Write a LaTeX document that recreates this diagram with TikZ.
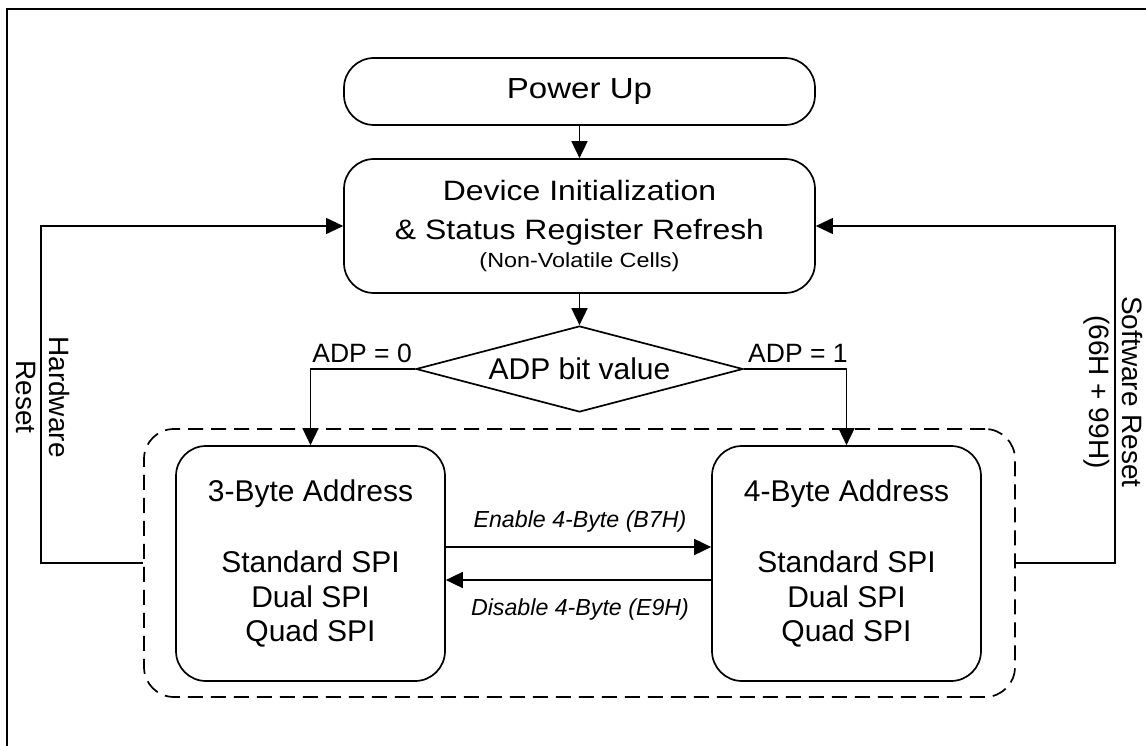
\documentclass[tikz,border=0pt]{standalone}
\usepackage{fontspec}
\setmainfont{Liberation Sans}
\newfontfamily\widefont{Liberation Sans}[FakeStretch=1.14]
\usetikzlibrary{arrows.meta,shapes.geometric}
\begin{document}
\begin{tikzpicture}[x=1pt,y=-1pt,
  box/.style={draw, line width=1.7pt, rounded corners=30pt, inner sep=0pt, align=center},
  decision/.style={draw, diamond, line width=1.7pt, inner sep=0pt, minimum width=327pt, minimum height=86pt, aspect=3.8},
  dashbox/.style={draw, line width=1.7pt, dash pattern=on 15pt off 8pt, rounded corners=30pt, minimum width=871pt, minimum height=268pt, inner sep=0pt},
  conn/.style={line width=1.7pt, -{Triangle[length=17pt,width=16pt]}},
  rconn/.style={line width=1.1pt, -{Triangle[length=17pt,width=16pt]}},
  lbl/.style={inner sep=0pt},
  spibox/.style={box, minimum width=269pt, minimum height=235pt, font={\fontsize{30}{34.5}\selectfont}},
]
\useasboundingbox (0,0) rectangle (1146,746);
\draw[line width=1.2pt] (7,746) -- (7,9) -- (1146,9);

\node[box, minimum width=471pt, minimum height=67pt, font={\widefont\fontsize{29}{34}\selectfont}] (pu) at (579.5,91.5)
  {Power Up};
\node[box, minimum width=471pt, minimum height=134pt, font={\widefont\fontsize{28}{39}\selectfont}] (dev) at (579.5,226)
  {Device Initialization\\ \& Status Register Refresh\\[-11pt]
   {\fontsize{20.5}{20.5}\selectfont (Non-Volatile Cells)}};
\node[decision, font={\fontsize{30}{34}\selectfont}] (adp) at (579.5,369) {ADP bit value};
\node[dashbox] (grp) at (579.5,563) {};
\node[spibox] (b3) at (310.5,563.5)
  {3-Byte Address\\[37pt]Standard SPI\\Dual SPI\\Quad SPI};
\node[spibox] (b4) at (846.5,563.5)
  {4-Byte Address\\[37pt]Standard SPI\\Dual SPI\\Quad SPI};

\coordinate (l0) at (310.5,369);
\coordinate (l1) at (846.5,369);
\coordinate (hw1) at (41,563);
\coordinate (hw2) at (41,226);
\coordinate (sw1) at (1115,563);
\coordinate (sw2) at (1115,226);

\draw[conn] (pu) -- (dev);
\draw[conn] (dev) -- (adp);
\draw[conn] (adp.west) -- (l0) -- (b3.north);
\draw[conn] (adp.east) -- (l1) -- (b4.north);
\draw[conn] ([yshift=16.5pt]b3.east) -- ([yshift=16.5pt]b4.west);
\draw[conn] ([yshift=-16.5pt]b4.west) -- ([yshift=-16.5pt]b3.east);
\draw[rconn] (grp.west) -- (hw1) -- (hw2) -- (dev.west);
\draw[rconn] (grp.east) -- (sw1) -- (sw2) -- (dev.east);

\node[lbl, anchor=base east, font={\fontsize{26.5}{30}\selectfont}] (a0) at (412,362) {ADP = 0};
\node[lbl, anchor=base west, font={\fontsize{26.5}{30}\selectfont}] (a1) at (748,362) {ADP = 1};
\node[lbl, anchor=base, font={\fontsize{23.2}{27}\selectfont\itshape}] (en) at (580,527) {Enable 4-Byte (B7H)};
\node[lbl, anchor=base, font={\fontsize{23.2}{27}\selectfont\itshape}] (dis) at (580,615) {Disable 4-Byte (E9H)};
\node[lbl, rotate=-90, align=center, font={\fontsize{28}{33}\selectfont}] (hwl) at (43.5,397) {Hardware\\Reset};
\node[lbl, rotate=-90, align=center, font={\fontsize{28}{33}\selectfont}] (swl) at (1113.7,392) {Software Reset\\(66H + 99H)};
\end{tikzpicture}
\end{document}
